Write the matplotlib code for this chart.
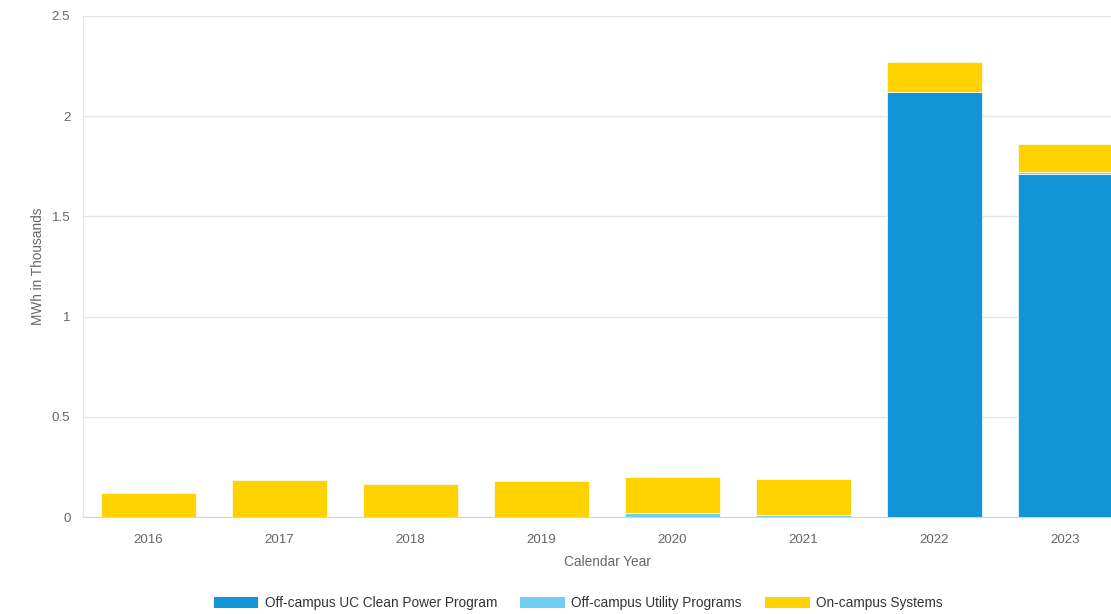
import matplotlib.pyplot as plt
from matplotlib.patches import Patch
import numpy as np

# values in thousands of MWh
years = ["2016", "2017", "2018", "2019", "2020", "2021", "2022", "2023"]
uc_clean_power = [0.0, 0.0, 0.0, 0.0, 0.0, 0.0, 2.12, 1.71]
utility_programs = [0.0, 0.0, 0.0, 0.0, 0.02, 0.01, 0.0, 0.01]
on_campus = [0.12, 0.185, 0.165, 0.18, 0.18, 0.18, 0.15, 0.14]

series_names = ["Off-campus UC Clean Power Program", "Off-campus Utility Programs", "On-campus Systems"]
colors = ["#1295d8", "#72cdf4", "#ffd200"]

plt.rcParams['font.family'] = ['Liberation Sans', 'DejaVu Sans']

W, H = 1111, 614
fig = plt.figure(figsize=(W / 100, H / 100), dpi=100)
# plot area extends past the right edge of the image (last bar is cut off)
left, right, top, bottom = 83, 1131, 16, 517
ax = fig.add_axes([left / W, 1 - bottom / H, (right - left) / W, (bottom - top) / H])

x = np.arange(len(years))
base = np.zeros(len(years))
for vals, col in zip([uc_clean_power, utility_programs, on_campus], colors):
    vals = np.array(vals)
    ax.bar(x, vals, bottom=base, width=0.72, color=col, edgecolor="white", linewidth=0.5, zorder=3)
    base += vals

ax.set_xlim(-0.5, len(years) - 0.5)
ax.set_ylim(0, 2.5)
ax.set_yticks([0, 0.5, 1, 1.5, 2, 2.5])
ax.set_yticklabels(["0", "0.5", "1", "1.5", "2", "2.5"])
ax.set_xticks(x)
ax.set_xticklabels(years)

ax.grid(axis="y", color="#e6e6e6", linewidth=1, zorder=0)
ax.tick_params(axis="both", colors="#666666", labelsize=9.6, length=0)
ax.tick_params(axis="x", pad=12)
ax.tick_params(axis="y", pad=9)
for s in ["top", "right"]:
    ax.spines[s].set_visible(False)
ax.spines["left"].set_color("#e6e6e6")
ax.spines["bottom"].set_color("#ccd6eb")

ax.set_xlabel("Calendar Year", color="#666666", fontsize=9.8, labelpad=7)
ax.set_ylabel("MWh in Thousands", color="#666666", fontsize=9.8, labelpad=5)

handles = [Patch(facecolor=c, edgecolor="none") for c in colors]
fig.legend(handles, series_names, loc="center", bbox_to_anchor=(578 / W, 1 - 603 / H),
           ncol=3, frameon=False, fontsize=9.8, handlelength=3.3, handleheight=0.9,
           handletextpad=0.45, columnspacing=1.7, labelcolor="#333333")

fig.savefig("out.png", dpi=100)
